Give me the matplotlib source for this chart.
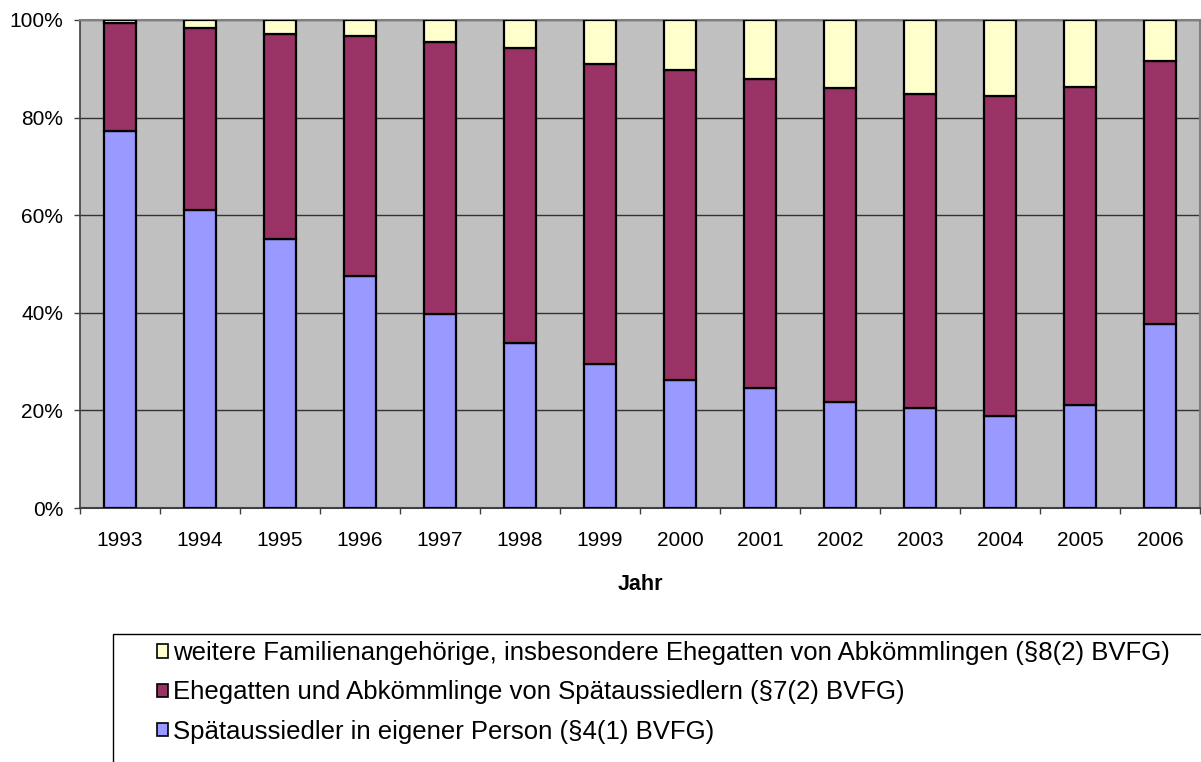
import numpy as np
import matplotlib.pyplot as plt
from matplotlib.patches import Rectangle, Patch

plt.rcParams['font.family'] = ['Liberation Sans', 'DejaVu Sans']

# Anteile in Prozent
years = ['1993', '1994', '1995', '1996', '1997', '1998', '1999',
         '2000', '2001', '2002', '2003', '2004', '2005', '2006']
eigene_person = [77.3, 61.0, 55.2, 47.6, 39.7, 33.9, 29.5,
                 26.2, 24.5, 21.7, 20.5, 18.8, 21.2, 37.7]
ehegatten_top = [99.45, 98.3, 97.1, 96.7, 95.4, 94.2, 90.9,
                 89.7, 88.0, 86.0, 84.8, 84.4, 86.3, 91.7]
ehegatten = [t - b for t, b in zip(ehegatten_top, eigene_person)]
weitere = [100 - t for t in ehegatten_top]

labels = ['weitere Familienangehörige, insbesondere Ehegatten von Abkömmlingen (§8(2) BVFG)',
          'Ehegatten und Abkömmlinge von Spätaussiedlern (§7(2) BVFG)',
          'Spätaussiedler in eigener Person (§4(1) BVFG)']
colors = ['#FFFFCC', '#993366', '#9999FF']

fig = plt.figure(figsize=(12.01, 7.62), dpi=100)
ax = fig.add_axes([80 / 1201, 1 - 508 / 762, 1120 / 1201, 488 / 762])
ax.set_facecolor('#C0C0C0')

x = np.arange(len(years))
w = 0.4
ax.bar(x, eigene_person, w, color=colors[2], edgecolor='black', linewidth=1.6, zorder=3)
ax.bar(x, ehegatten, w, bottom=eigene_person, color=colors[1], edgecolor='black',
       linewidth=1.6, zorder=3)
ax.bar(x, weitere, w, bottom=ehegatten_top, color=colors[0], edgecolor='black',
       linewidth=1.6, zorder=3)

ax.set_xlim(-0.5, len(years) - 0.5)
ax.set_ylim(0, 100)
ax.set_yticks(range(0, 101, 20))
ax.set_yticklabels([f'{v}%' for v in range(0, 101, 20)], fontsize=15)
ax.set_xticks(x)
ax.set_xticklabels(years, fontsize=15)
ax.set_xticks(np.arange(-0.5, len(years), 1), minor=True)
ax.tick_params(axis='x', which='major', length=0, pad=16.5)
ax.tick_params(axis='x', which='minor', length=4.5, color='#404040', width=1)
ax.tick_params(axis='y', length=4.5, color='#404040', width=1, pad=7.5)
ax.yaxis.grid(True, color='#333333', linewidth=1, zorder=1)
ax.set_axisbelow(True)

for s in ['top', 'right']:
    ax.spines[s].set_color('#808080')
    ax.spines[s].set_linewidth(1.5)
ax.spines['left'].set_color('#404040')
ax.spines['bottom'].set_color('#404040')
ax.spines['left'].set_linewidth(1.2)
ax.spines['bottom'].set_linewidth(1.5)

ax.set_xlabel('Jahr', fontsize=15.5, fontweight='bold', labelpad=17)

# Legende mit eigenem Rahmen, rechts und unten abgeschnitten
fig.patches.append(Rectangle((113 / 1201, -0.05), 1.05, 1 - 634 / 762 + 0.05,
                             transform=fig.transFigure, fill=False,
                             edgecolor='black', linewidth=1.0))
handles = [Patch(facecolor=c, edgecolor='black', linewidth=1.2) for c in colors]
fig.legend(handles, labels, loc='upper left', bbox_to_anchor=(157 / 1201, 1 - 641 / 762),
           frameon=False, fontsize=18.5, handlelength=0.43, handleheight=0.43,
           handletextpad=0.2, labelspacing=0.6, borderaxespad=0, borderpad=0)

fig.savefig('out.png', dpi=100)
